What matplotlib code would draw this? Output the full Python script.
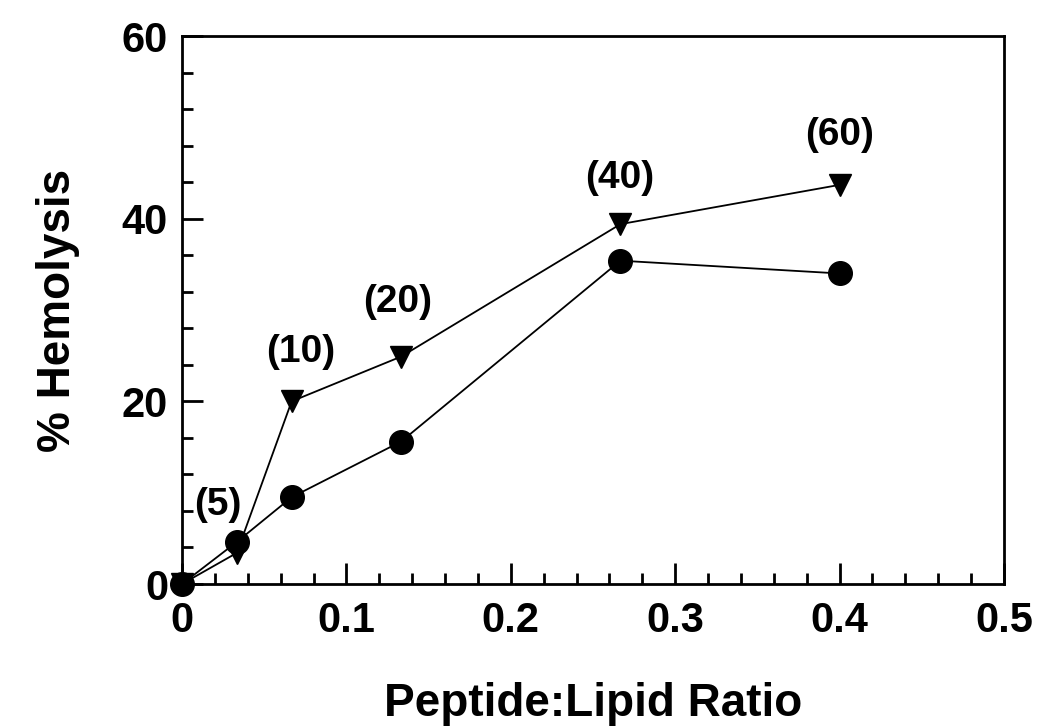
import numpy as np
import matplotlib.pyplot as plt
from matplotlib.ticker import MultipleLocator

ratio = [0, 0.0333, 0.0667, 0.1333, 0.2667, 0.4]
circles = [0, 4.6, 9.5, 15.6, 35.4, 34.0]
triangles = [0, 3.4, 20.0, 24.9, 39.4, 43.7]

ann_text = ['(5)', '(10)', '(20)', '(40)', '(60)']
ann_x = [0.022, 0.072, 0.131, 0.2665, 0.4]
ann_y = [8.6, 25.4, 30.9, 44.5, 49.2]

plt.rcParams['font.family'] = ['Liberation Sans', 'DejaVu Sans']
plt.rcParams['font.weight'] = 'bold'

fig = plt.figure(figsize=(10.5, 7.27), dpi=100)
ax = fig.add_axes([182/1050, 1-584/727, (1004-182)/1050, (584-36)/727])

ax.plot(ratio, triangles, color='black', lw=1.3, marker='v', ms=16, clip_on=False, zorder=3)
ax.plot(ratio, circles, color='black', lw=1.3, marker='o', ms=17, clip_on=False, zorder=4)

for t, x, y in zip(ann_text, ann_x, ann_y):
    ax.text(x, y, t, ha='center', va='center', fontsize=28, fontweight='bold')

ax.set_xlim(0, 0.5)
ax.set_ylim(0, 60)
ax.xaxis.set_major_locator(MultipleLocator(0.1))
ax.xaxis.set_minor_locator(MultipleLocator(0.02))
ax.yaxis.set_major_locator(MultipleLocator(20))
ax.yaxis.set_minor_locator(MultipleLocator(4))
ax.set_xticks([0, 0.1, 0.2, 0.3, 0.4, 0.5])
ax.set_xticklabels(['0', '0.1', '0.2', '0.3', '0.4', '0.5'])
ax.tick_params(which='both', direction='in', top=False, right=False, width=2, labelsize=30)
ax.tick_params(axis='x', pad=12)
ax.tick_params(axis='y', pad=10)
ax.tick_params(which='major', length=15)
ax.tick_params(which='minor', length=8)
for s in ax.spines.values():
    s.set_linewidth(2)

ax.set_xlabel('Peptide:Lipid Ratio', fontsize=33, fontweight='bold', labelpad=30)
ax.set_ylabel('% Hemolysis', fontsize=33, fontweight='bold', labelpad=30)

fig.savefig('out.png', dpi=100)
